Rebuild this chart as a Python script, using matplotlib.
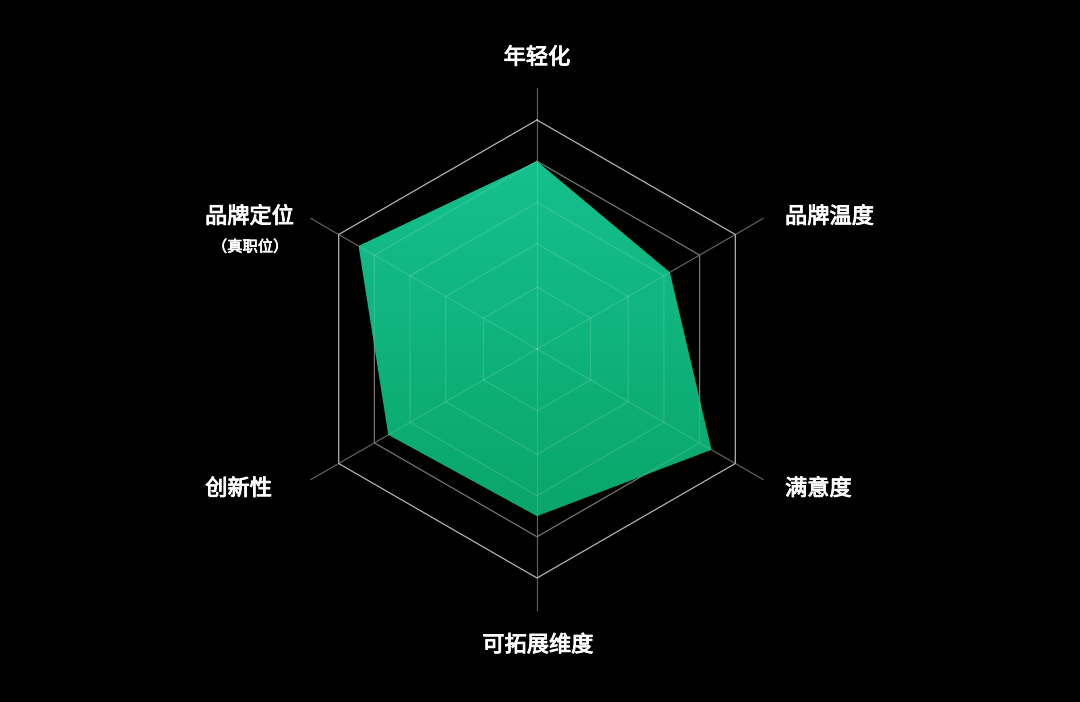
import numpy as np
import matplotlib
matplotlib.use("Agg")
import matplotlib.pyplot as plt
import matplotlib.patheffects as pe
from matplotlib.patches import Polygon
from matplotlib.colors import LinearSegmentedColormap

plt.rcParams['font.family'] = ['Noto Sans CJK SC', 'DejaVu Sans']

# ---- data ----
labels = ['年轻化', '品牌温度', '满意度', '可拓展维度', '创新性', '品牌定位']
sub_label = '（真职位）'
values = [82, 67, 88, 73, 75, 90]
max_value = 100
rings = [27, 46, 64, 82, 100]

# ---- geometry ----
n = len(labels)
angles = np.pi / 2 - np.arange(n) * 2 * np.pi / n   # start at top, clockwise
ux, uy = np.cos(angles), np.sin(angles)

fig = plt.figure(figsize=(10.8, 7.02), dpi=100, facecolor='black')
ax = fig.add_axes([0, 0, 1, 1])
ax.set_facecolor('black')
R = 229.0
cx, cy = 537.0, 349.0
ax.set_xlim(-cx / R, (1080 - cx) / R)
ax.set_ylim(-(702 - cy) / R, cy / R)
ax.axis('off')

def ring_xy(level):
    r = level / max_value
    return np.append(ux * r, ux[0] * r), np.append(uy * r, uy[0] * r)

# grid below the fill
axis_len = 1.14
for x, y in zip(ux, uy):
    ax.plot([0, x * axis_len], [0, y * axis_len], color='#5e5e5e', lw=0.9, zorder=1)
ring_cols = ['#555555', '#555555', '#5e5e5e', '#747474', '#b4b4b4']
for lev, col in zip(rings, ring_cols):
    xs, ys = ring_xy(lev)
    ax.plot(xs, ys, color=col, lw=0.9, zorder=2)

# data polygon with vertical gradient
r_vals = np.array(values) / max_value
px, py = ux * r_vals, uy * r_vals
poly = Polygon(np.column_stack([px, py]), closed=True, facecolor='none',
               edgecolor='none', zorder=3)
ax.add_patch(poly)
cmap = LinearSegmentedColormap.from_list('g', ['#0aa66a', '#15c08f'])
grad = np.linspace(0, 1, 256).reshape(-1, 1)
ymin, ymax = py.min(), py.max()
im = ax.imshow(grad, cmap=cmap, origin='lower', aspect='auto',
               extent=[px.min(), px.max(), ymin, ymax], zorder=3)
im.set_clip_path(poly)

# grid overlay inside the fill
for x, y in zip(ux, uy):
    l, = ax.plot([0, x * axis_len], [0, y * axis_len], color='white', alpha=0.13,
                 lw=0.9, zorder=4)
    l.set_clip_path(poly)
for lev in rings:
    xs, ys = ring_xy(lev)
    l, = ax.plot(xs, ys, color='white', alpha=0.13, lw=0.9, zorder=4)
    l.set_clip_path(poly)

# labels (regular weight thickened a little to look "medium")
thick = [pe.withStroke(linewidth=0.7, foreground='white')]
fs = 16
txt = dict(color='white', fontsize=fs, va='center', path_effects=thick)
ax.text(0, 1.273, labels[0], ha='center', **txt)
ax.text(1.083, 0.578, labels[1], ha='left', **txt)
ax.text(1.083, -0.610, labels[2], ha='left', **txt)
ax.text(0.004, -1.293, labels[3], ha='center', **txt)
ax.text(-1.157, -0.610, labels[4], ha='right', **txt)
ax.text(-1.061, 0.578, labels[5], ha='right', **txt)
ax.text(-1.253, 0.445, sub_label, ha='center', va='center', color='white',
        fontsize=11, path_effects=[pe.withStroke(linewidth=0.5, foreground='white')])

fig.savefig('out.png', dpi=100, facecolor='black')
